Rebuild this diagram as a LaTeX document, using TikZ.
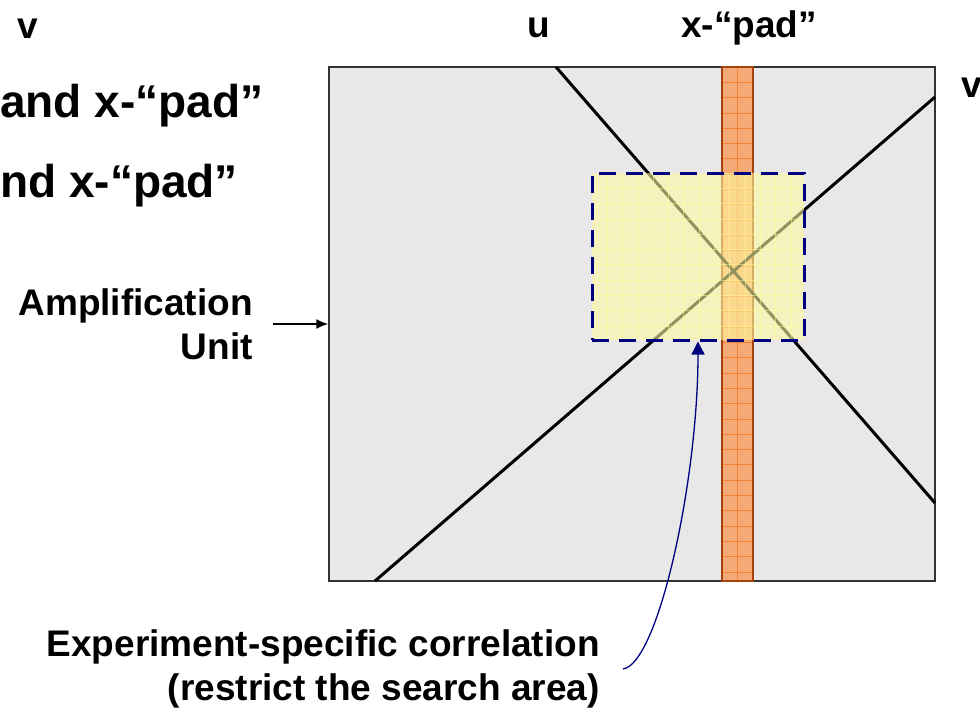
\documentclass[tikz,border=0pt]{standalone}
\usepackage{fontspec}
\setmainfont{Liberation Sans}
\usetikzlibrary{arrows.meta}
\definecolor{navyline}{RGB}{0,0,128}
\definecolor{unitgray}{RGB}{232,232,232}
\definecolor{padfill}{RGB}{244,170,118}
\definecolor{padedge}{RGB}{166,66,14}
\definecolor{padgrid}{RGB}{244,128,48}
\definecolor{areafill}{RGB}{255,250,160}
\definecolor{areagrid}{RGB}{255,255,150}

\begin{document}
\begin{tikzpicture}[x=1pt, y=-1pt,
  lbl/.style={font=\bfseries\fontsize{37}{44}\selectfont, inner sep=0pt},
  biglbl/.style={font=\bfseries\fontsize{46}{56}\selectfont, inner sep=0pt},
  ptr/.style={-{Latex[length=12pt,width=10pt]}, line width=1.5pt},
  track/.style={line width=3pt, black},
  gridln/.style={line width=0.7pt}
]
\useasboundingbox (0,0) rectangle (980,707);
\clip (0,0) rectangle (980,707);

% labels on top and left
\node[lbl, anchor=base west] (vtop) at (17,38) {v};
\node[lbl, anchor=base west] (ulbl) at (527,37) {u};
\node[lbl, anchor=base west] (padlbl) at (681,37) {x-“pad”};
\node[lbl, anchor=base west] (vright) at (961,97) {v};
\node[biglbl, anchor=base west] (padA) at (0,117) {and x-“pad”};
\node[biglbl, anchor=base west] (padB) at (0,197) {nd x-“pad”};

% amplification unit
\node[draw=black!80, line width=1.5pt, fill=unitgray, inner sep=0pt,
      minimum width=606pt, minimum height=514pt] (unit) at (632,324) {};

% x-pad strip
\node[draw=padedge, line width=1.5pt, fill=padfill, inner sep=0pt,
      minimum width=31pt, minimum height=514pt] (strip) at (737.5,324) {};
\draw[gridln, padgrid] (737.5,68) -- (737.5,580);
\foreach \k in {1,...,33}
  \draw[gridln, padgrid] (723,{67+15.3*\k}) -- (752,{67+15.3*\k});

% correlation lines
\draw[track] (556,67) -- (935,503);
\draw[track] (375,581) -- (935,97);

% search area
\node[draw=navyline, line width=3pt, dash pattern=on 17pt off 10pt,
      fill=areafill, fill opacity=.58, inner sep=0pt,
      minimum width=212pt, minimum height=167pt] (search) at (698,256.5) {};
\foreach \k in {1,...,13}
  \draw[gridln, areagrid, opacity=.5] ({592+15.3*\k},175) -- ({592+15.3*\k},338);
\foreach \k in {1,...,10}
  \draw[gridln, areagrid, opacity=.5] (594,{173+15.3*\k}) -- (802,{173+15.3*\k});

% captions with pointers
\node[lbl, align=right, anchor=east] (amp) at (253,324) {Amplification\\Unit};
\draw[ptr, shorten <=20pt] (amp) -- (unit);
\node[lbl, align=right, anchor=east] (corr) at (600,669)
  {Experiment-specific correlation\\(restrict the search area)};
\draw[navyline, line width=1.3pt, -{Triangle[length=13pt,width=13pt]}]
  ([xshift=23pt]corr.east) .. controls +(35,-5) and +(0,140) .. (search.south);
\end{tikzpicture}
\end{document}
